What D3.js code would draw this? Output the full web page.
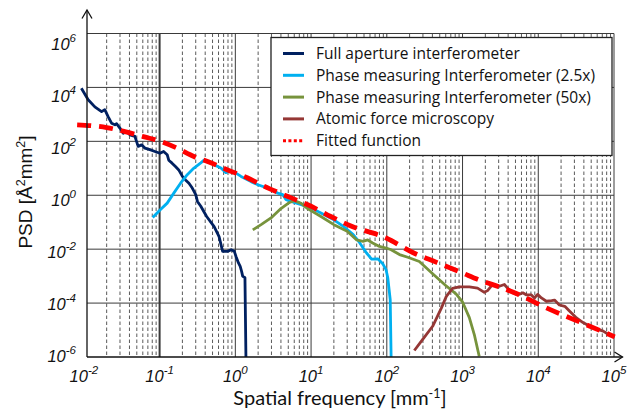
<!DOCTYPE html>
<html>
<head>
<meta charset="utf-8">
<script src="https://cdn.jsdelivr.net/npm/d3@7"></script>
<style>
  body { margin: 0; background: #fff; }
  svg { display: block; }
</style>
</head>
<body>
<div class="svg-content"></div>
<script>

//--- Data -------------------------------------------------------------------------------------------------   //

var fullFreq = [0.00927, 0.0114, 0.01396, 0.01714, 0.0189, 0.0209, 0.0232, 0.0257, 0.0270, 0.0299, 0.0331, 0.0366,
    0.0405, 0.0472, 0.0521, 0.0578, 0.064, 0.0745, 0.0867, 0.101, 0.113, 0.126, 0.132, 0.146, 0.162, 0.179, 0.20,
    0.22, 0.244, 0.27, 0.30, 0.316, 0.35, 0.418, 0.525, 0.61, 0.68, 0.79, 0.88, 0.97, 1.02, 1.10, 1.16, 1.21, 1.25,
    1.34, 1.38];
var fullPsd = [9.3e3, 3.5e3, 1.9e3, 1.26e3, 1.5e3, 830, 470, 410, 450, 310, 200, 230,
    174, 152, 65, 74, 56, 49, 42, 36, 42, 32, 20, 15.5, 11.7, 8.7, 5.0,
    3.7, 2.8, 1.85, 1.05, 0.59, 0.39, 0.163, 0.069, 0.029, 0.0083, 0.0083, 0.0095, 0.0083, 0.0054, 0.0031, 0.0023, 0.0015, 0.0010,
    8.7e-4, 1e-6];

var pmi25Freq = [0.081, 0.102, 0.126, 0.154, 0.189, 0.232, 0.284, 0.35, 0.386, 0.43, 0.525, 0.645, 0.75, 0.88, 1.02,
    1.19, 1.61, 1.98, 2.68, 3.63, 4.23, 4.68, 5.44, 7.4, 10, 13.5, 20, 27, 36, 44, 54, 63, 76, 89, 98, 103, 111, 114];
var pmi25Psd = [0.15, 0.29, 0.51, 1.2, 2.8, 5.8, 10.2, 16, 20, 18, 13.5, 10.2, 6.9, 8.3, 6.6,
    5.0, 3.2, 2.45, 1.85, 1.2, 1.05, 0.68, 0.59, 0.45, 0.34, 0.22, 0.123, 0.069, 0.035, 0.017, 0.0072, 0.0043, 0.0044,
    0.0028, 0.0017, 8.7e-4, 1.35e-4, 1e-6];

var pmi50Freq = [1.7, 2.19, 2.96, 4.0, 5.2, 6.0, 7.4, 9.0, 13.5, 20, 30, 40, 48.5, 56, 65, 80, 98, 114, 147, 189, 269,
    403, 600, 820, 1000, 1230, 1430, 1660];
var pmi50Psd = [0.052, 0.081, 0.144, 0.32, 0.54, 0.63, 0.50, 0.32, 0.162, 0.081, 0.046, 0.022, 0.0195, 0.022, 0.017,
    0.0126, 0.011, 0.0095, 0.0063, 0.005, 0.0035, 0.00123, 4.5e-4, 2.2e-4, 1.1e-4, 2.9e-5, 6.8e-6, 1.07e-6];

var afmFreq = [231, 298, 403, 525, 611, 738, 906, 1230, 1580, 1940, 2140, 2500, 2770, 3070, 3570, 3950, 4600, 5370,
    6250, 7000, 8130, 8900, 9800, 1.1e4, 1.28e4, 1.5e4, 1.64e4, 1.9e4, 2.24e4, 2.6e4, 3.2e4, 3.9e4, 4.8e4, 5.8e4,
    7.2e4, 8.3e4, 1.02e5];
var afmPsd = [1.74e-6, 4.5e-6, 1.38e-5, 6.5e-5, 1.78e-4, 3.5e-4, 4.0e-4, 4.0e-4, 3.6e-4, 2.5e-4, 2.9e-4, 4.9e-4,
    4.5e-4, 4.2e-4, 4.9e-4, 3.5e-4, 2.4e-4, 2.0e-4, 2.4e-4, 2.0e-4, 2.0e-4, 1.55e-4, 2.1e-4, 1.55e-4, 1.17e-4,
    1.23e-4, 1.29e-4, 8.5e-5, 7.6e-5, 5.0e-5, 2.8e-5, 1.9e-5, 1.38e-5, 1.1e-5, 9.1e-6, 7.1e-6, 5.5e-6];

var fitFreq = [0.00815, 0.01265, 0.02, 0.0348, 0.0607, 0.1, 0.17, 0.284, 0.43, 0.79, 1.46, 2.19, 4.0, 10, 18.2, 33,
    98, 220, 447, 1000, 1660, 3400, 6250, 1.15e4, 2.34e4, 4.3e4, 1.02e5];
var fitPsd = [410, 380, 325, 230, 150, 102, 56, 27.5, 17.8, 8.7, 4.35, 2.45, 1.15, 0.39, 0.163, 0.074,
    0.026, 0.0075, 0.0033, 0.0013, 7.2e-4, 3.6e-4, 1.78e-4, 7.6e-5, 3.2e-5, 1.58e-5, 5.6e-6];

var seriesNames = ["Full aperture interferometer", "Phase measuring Interferometer (2.5x)",
    "Phase measuring Interferometer (50x)", "Atomic force microscopy", "Fitted function"];
var seriesColors = ["#002060", "#00b0f0", "#77933c", "#953735", "#ff0000"];

var xTickExps = [-2, -1, 0, 1, 2, 3, 4, 5];
var yTickExps = [-6, -4, -2, 0, 2, 4, 6];

//--- Chart ------------------------------------------------------------------------------------------------   //

var width = 633, height = 417;

var x = d3.scaleLog().domain([0.011, 1e5]).range([87, 614]);
var y = d3.scaleLog().domain([1e-6, 1e6]).range([357, 33.5]);
// the original spaces its power-of-ten labels evenly, slightly off the grid lines
var yLabel = d3.scaleLinear().domain([-6, 6]).range([356, 44]);

var svg = d3.select(".svg-content")
    .append("svg")
    .attr("width", width)
    .attr("height", height);

svg.append("defs").append("clipPath")
    .attr("id", "clip")
    .append("rect")
    .attr("x", 0).attr("y", 0)
    .attr("width", width).attr("height", 357);

function isDecade(v) {
    return Math.abs(Math.log10(v) - Math.round(Math.log10(v))) < 1e-9;
}

// vertical grid: decades solid, 2..9 dashed
var xGrid = x.ticks().filter(function(v) { return v > x.domain()[0] && v <= x.domain()[1]; });
svg.append("g")
    .selectAll("line")
    .data(xGrid)
    .enter()
    .append("line")
    .attr("x1", function(d) { return x(d); })
    .attr("x2", function(d) { return x(d); })
    .attr("y1", y(1e6))
    .attr("y2", y(1e-6))
    .attr("stroke", function(d) { return isDecade(d) ? "#3a3a3a" : "#5a5a5a"; })
    .attr("stroke-width", function(d) { return Math.abs(d - 0.1) < 1e-9 ? 2 : 1; })
    .attr("stroke-dasharray", function(d) { return isDecade(d) ? null : "3.5,2.5"; });

// horizontal grid
svg.append("g")
    .selectAll("line")
    .data(yTickExps.filter(function(e) { return e > -6; }))
    .enter()
    .append("line")
    .attr("x1", x.range()[0])
    .attr("x2", x.range()[1])
    .attr("y1", function(e) { return y(Math.pow(10, e)); })
    .attr("y2", function(e) { return y(Math.pow(10, e)); })
    .attr("stroke", "#3a3a3a")
    .attr("stroke-width", 1);

//--- Series -----------------------------------------------------------------------------------------------   //

function pairs(fs, ps) {
    return fs.map(function(f, i) { return [f, ps[i]]; });
}

var series = [
    { data: pairs(fullFreq, fullPsd), color: seriesColors[0], width: 2.8, dash: null, curve: d3.curveLinear },
    { data: pairs(pmi25Freq, pmi25Psd), color: seriesColors[1], width: 2.8, dash: null, curve: d3.curveLinear },
    { data: pairs(pmi50Freq, pmi50Psd), color: seriesColors[2], width: 2.8, dash: null, curve: d3.curveLinear },
    { data: pairs(afmFreq, afmPsd), color: seriesColors[3], width: 2.8, dash: null, curve: d3.curveLinear },
    { data: pairs(fitFreq, fitPsd), color: seriesColors[4], width: 4.8, dash: "14,8", curve: d3.curveMonotoneX }
];

var plot = svg.append("g").attr("clip-path", "url(#clip)");

series.forEach(function(s) {
    var line = d3.line()
        .x(function(d) { return x(d[0]); })
        .y(function(d) { return y(d[1]); })
        .curve(s.curve);
    plot.append("path")
        .attr("d", line(s.data))
        .attr("fill", "none")
        .attr("stroke", s.color)
        .attr("stroke-width", s.width)
        .attr("stroke-linejoin", "round")
        .attr("stroke-dasharray", s.dash);
});

//--- Axes -------------------------------------------------------------------------------------------------   //

var axis = svg.append("g").attr("stroke", "#111").attr("stroke-width", 1.3).attr("fill", "none");
axis.append("line").attr("x1", 87).attr("x2", 87).attr("y1", 357).attr("y2", 10);
axis.append("path").attr("d", "M82,18.5L87,10L92,18.5");
axis.append("line").attr("x1", 87).attr("x2", 622.5).attr("y1", 357).attr("y2", 357);
axis.append("path").attr("d", "M614.5,352L622.5,357L614.5,362");

var xLabels = svg.append("g")
    .selectAll("text")
    .data(xTickExps)
    .enter()
    .append("text")
    .attr("x", function(e) { return x(Math.pow(10, e)); })
    .attr("y", 382)
    .attr("text-anchor", "middle")
    .style("font-family", "'Liberation Sans', Arial, sans-serif")
    .style("font-style", "italic")
    .style("font-size", "16.5px")
    .attr("fill", "#111");
xLabels.append("tspan").text("10");
xLabels.append("tspan").attr("dy", -8).style("font-size", "11.5px").text(function(e) { return e; });

var yLabels = svg.append("g")
    .selectAll("text")
    .data(yTickExps)
    .enter()
    .append("text")
    .attr("x", 76)
    .attr("y", function(e) { return yLabel(e) + 6; })
    .attr("text-anchor", "end")
    .style("font-family", "'Liberation Sans', Arial, sans-serif")
    .style("font-style", "italic")
    .style("font-size", "16.5px")
    .attr("fill", "#111");
yLabels.append("tspan").text("10");
yLabels.append("tspan").attr("dy", -8).style("font-size", "11.5px").text(function(e) { return e; });

// axis titles
var xTitle = svg.append("text")
    .attr("x", 340)
    .attr("y", 405)
    .attr("text-anchor", "middle")
    .style("font-family", "Lato, 'Open Sans', sans-serif")
    .style("font-size", "20px")
    .attr("fill", "#111");
xTitle.append("tspan").text("Spatial frequency [mm");
xTitle.append("tspan").attr("dy", -7).style("font-size", "12.5px").text("-1");
xTitle.append("tspan").attr("dy", 7).text("]");

var yTitle = svg.append("text")
    .attr("transform", "translate(32,192) rotate(-90)")
    .attr("text-anchor", "middle")
    .style("font-family", "'Liberation Sans', Arial, sans-serif")
    .style("font-size", "19px")
    .attr("fill", "#111");
yTitle.append("tspan").text("PSD [Å");
yTitle.append("tspan").attr("dy", -7).style("font-size", "12.5px").text("2");
yTitle.append("tspan").attr("dy", 7).text("mm");
yTitle.append("tspan").attr("dy", -7).style("font-size", "12.5px").text("2");
yTitle.append("tspan").attr("dy", 7).text("]");

//--- Legend -----------------------------------------------------------------------------------------------   //

var legend = svg.append("g");
legend.append("rect")
    .attr("x", 271).attr("y", 37.5)
    .attr("width", 341).attr("height", 118)
    .attr("fill", "#fff")
    .attr("stroke", "#222")
    .attr("stroke-width", 1.3);

var item = legend.selectAll(".item")
    .data(seriesNames)
    .enter()
    .append("g")
    .attr("class", "item")
    .attr("transform", function(d, i) { return "translate(0," + (53.5 + i * 21.8) + ")"; });

item.append("line")
    .attr("x1", 283).attr("x2", 304)
    .attr("stroke", function(d, i) { return seriesColors[i]; })
    .attr("stroke-width", 3)
    .attr("stroke-dasharray", function(d, i) { return i === 4 ? "3,2.4" : null; });

item.append("text")
    .attr("x", 316)
    .attr("dy", "0.35em")
    .style("font-family", "'Open Sans', Lato, sans-serif")
    .style("font-size", "15.5px")
    .attr("fill", "#111")
    .text(function(d) { return d; });

</script>
</body>
</html>
